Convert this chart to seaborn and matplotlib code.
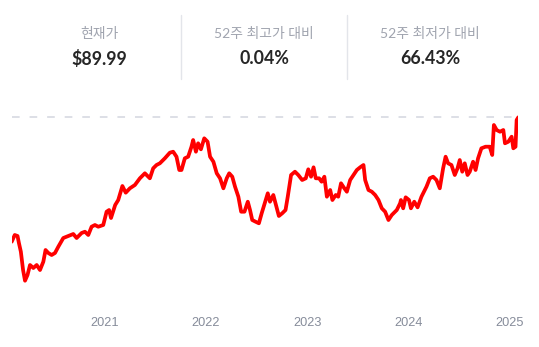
import matplotlib
matplotlib.use("Agg")
import matplotlib.pyplot as plt
from matplotlib.lines import Line2D
import pandas as pd
import seaborn as sns

# ---- data ----
dates = [
    "2020-02-01", "2020-02-12", "2020-02-22", "2020-02-27", "2020-03-05", "2020-03-13", "2020-03-20",
    "2020-03-29", "2020-04-07", "2020-04-19", "2020-05-01", "2020-05-13", "2020-05-25", "2020-06-02",
    "2020-06-12", "2020-06-24", "2020-07-06", "2020-07-18", "2020-08-05", "2020-08-23", "2020-09-10",
    "2020-09-22", "2020-10-10", "2020-10-22", "2020-11-03", "2020-11-15", "2020-11-27", "2020-12-09",
    "2020-12-27", "2021-01-08", "2021-01-17", "2021-01-24", "2021-02-08", "2021-02-19", "2021-03-06",
    "2021-03-18", "2021-04-02", "2021-04-20", "2021-05-08", "2021-05-26", "2021-06-13", "2021-06-25",
    "2021-07-07", "2021-07-19", "2021-08-06", "2021-08-24", "2021-09-05", "2021-09-17", "2021-09-27",
    "2021-10-05", "2021-10-17", "2021-10-29", "2021-11-10", "2021-11-16", "2021-11-26", "2021-12-04",
    "2021-12-14", "2021-12-26", "2022-01-07", "2022-01-16", "2022-01-28", "2022-02-09", "2022-02-21",
    "2022-03-05", "2022-03-17", "2022-03-26", "2022-04-06", "2022-04-16", "2022-04-28", "2022-05-08",
    "2022-05-20", "2022-06-01", "2022-06-09", "2022-06-17", "2022-06-29", "2022-07-11", "2022-07-21",
    "2022-07-30", "2022-08-12", "2022-08-20", "2022-09-01", "2022-09-09", "2022-09-21", "2022-10-03",
    "2022-10-15", "2022-10-23", "2022-11-04", "2022-11-18", "2022-11-30", "2022-12-14", "2022-12-27",
    "2023-01-05", "2023-01-15", "2023-01-24", "2023-02-01", "2023-02-13", "2023-02-22", "2023-03-04",
    "2023-03-13", "2023-03-25", "2023-04-02", "2023-04-14", "2023-04-23", "2023-05-03", "2023-05-15",
    "2023-05-24", "2023-06-05", "2023-06-17", "2023-06-29", "2023-07-11", "2023-07-23", "2023-07-29",
    "2023-08-10", "2023-08-22", "2023-09-03", "2023-09-15", "2023-09-27", "2023-10-09", "2023-10-21",
    "2023-11-02", "2023-11-20", "2023-12-02", "2023-12-05", "2023-12-13", "2023-12-22", "2024-01-03",
    "2024-01-10", "2024-01-22", "2024-02-03", "2024-02-17", "2024-03-06", "2024-03-18", "2024-03-30",
    "2024-04-11", "2024-04-23", "2024-05-05", "2024-05-14", "2024-05-23", "2024-06-04", "2024-06-16",
    "2024-06-26", "2024-07-04", "2024-07-13", "2024-07-22", "2024-08-01", "2024-08-09", "2024-08-21",
    "2024-08-30", "2024-09-08", "2024-09-20", "2024-10-05", "2024-10-20", "2024-10-29", "2024-11-04",
    "2024-11-14", "2024-11-26", "2024-12-08", "2024-12-14", "2024-12-26", "2025-01-07", "2025-01-13",
    "2025-01-21", "2025-01-25", "2025-01-31",
]
prices = [
    40.35, 43.03, 42.63, 39.84, 36.36, 29.06, 24.79,
    27.07, 31.06, 29.86, 31.06, 29.06, 32.37, 37.04,
    35.85, 35.05, 35.85, 38.36, 41.83, 42.63, 43.43,
    41.83, 43.83, 44.34, 43.03, 46.34, 47.02, 46.34,
    47.02, 52.32, 53.00, 49.81, 55.00, 56.99, 62.58,
    59.91, 61.66, 62.98, 65.65, 67.65, 65.65, 69.64,
    70.96, 71.64, 73.63, 75.87, 76.26, 74.27, 68.96,
    68.96, 73.63, 74.27, 78.26, 80.93, 76.26, 79.62,
    77.22, 81.61, 80.25, 74.27, 72.27, 67.65, 65.65,
    61.66, 65.65, 67.65, 66.29, 62.30, 58.31, 52.32,
    52.32, 56.31, 53.00, 49.01, 48.33, 47.70, 51.69,
    55.00, 59.67, 56.31, 58.99, 55.68, 50.61, 51.69,
    53.00, 58.31, 66.97, 68.28, 66.97, 64.97, 65.65,
    69.24, 66.29, 70.04, 65.65, 65.65, 64.29, 66.29,
    58.31, 60.98, 56.99, 58.99, 58.31, 63.66, 61.66,
    60.30, 64.97, 66.97, 68.96, 70.04, 70.96, 64.97,
    60.98, 60.30, 58.99, 56.99, 53.68, 52.32, 49.01,
    51.01, 53.00, 55.68, 56.99, 53.68, 58.07, 56.99,
    53.68, 56.31, 54.07, 58.31, 62.30, 65.65, 66.29,
    64.97, 61.66, 69.64, 74.27, 71.64, 70.96, 66.97,
    69.64, 72.95, 68.28, 71.64, 66.97, 68.28, 72.27,
    68.96, 73.63, 77.62, 78.26, 78.26, 74.95, 86.92,
    84.92, 84.24, 84.92, 79.62, 80.25, 82.25, 77.62,
    78.26, 88.91, 89.99,
]
year_ticks = ["2021-01-01", "2022-01-01", "2023-01-01", "2024-01-01", "2025-01-01"]
year_labels = ["2021", "2022", "2023", "2024", "2025"]
header_labels = ["현재가", "52주 최고가 대비", "52주 최저가 대비"]
header_values = ["$89.99", "0.04%", "66.43%"]

df = pd.DataFrame({"date": pd.to_datetime(dates), "price": prices})

sns.set_theme(style="white")
plt.rcParams["font.family"] = ["Lato", "Noto Sans CJK KR", "DejaVu Sans"]

W, H = 539, 347
fig = plt.figure(figsize=(W / 100, H / 100), dpi=100)

def fx(px):
    return px / W

def fy(py):
    return 1 - py / H

# chart axes: data spans x 11.7..518.3 px, y 105..295 px
ax = fig.add_axes([fx(11.7), fy(295), fx(518.3) - fx(11.7), fy(105) - fy(295)])
sns.lineplot(data=df, x="date", y="price", ax=ax, color="#FF0000", linewidth=2.7)
ax.set_xlim(df["date"].iloc[0], df["date"].iloc[-1])
ax.set_ylim(19.09, 94.9)

# dashed reference line at the period high
ax.axhline(max(prices), color="#D3D6DF", linewidth=1.1, linestyle=(0, (5, 6.5)), zorder=0)

ax.set_xticks(pd.to_datetime(year_ticks))
ax.set_xticklabels(year_labels)
ax.set_yticks([])
ax.tick_params(axis="x", length=0, pad=16, labelsize=9.2, labelcolor="#868C9A")
for lbl in ax.get_xticklabels():
    lbl.set_fontfamily(["Liberation Sans", "DejaVu Sans"])
ax.set_xlabel("")
ax.set_ylabel("")
for s in ax.spines.values():
    s.set_visible(False)
ax.set_facecolor("none")
ax.grid(False)

# header
col_x = [99.5, 264.3, 430.0]
for cx, lab, val in zip(col_x, header_labels, header_values):
    fig.text(fx(cx), fy(33.5), lab, ha="center", va="center", fontsize=10,
             color="#A0A4AF", family=["Lato", "Noto Sans CJK KR", "DejaVu Sans"])
    fig.text(fx(cx), fy(58.7), val, ha="center", va="center", fontsize=12.8, fontweight="bold",
             color="#262626", family=["Lato", "Noto Sans CJK KR", "DejaVu Sans"])
for dx in [181.4, 347.3]:
    fig.add_artist(Line2D([fx(dx), fx(dx)], [fy(14.5), fy(78.8)], color="#E3E5EA", linewidth=1.0))

fig.savefig("out.png", dpi=100)
